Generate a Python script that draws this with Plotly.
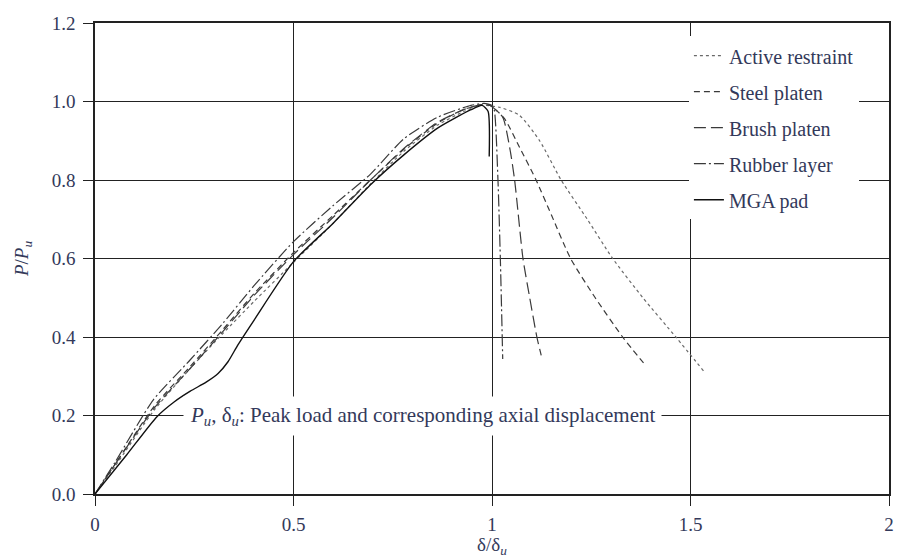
import plotly.graph_objects as go

# ---- data ----
active_x = [0, 0.05, 0.15, 0.24, 0.323, 0.4, 0.5, 0.6, 0.694, 0.78, 0.863, 0.93, 0.97, 0.985, 1.02, 1.069, 1.12, 1.174, 1.24, 1.304, 1.38, 1.463, 1.535]
active_y = [0, 0.07, 0.215, 0.32, 0.41, 0.49, 0.59, 0.69, 0.79, 0.875, 0.94, 0.975, 0.99, 0.99, 0.985, 0.965, 0.9, 0.8, 0.7, 0.6, 0.5, 0.4, 0.311]

steel_x = [0, 0.05, 0.15, 0.24, 0.323, 0.4, 0.5, 0.6, 0.694, 0.78, 0.863, 0.93, 0.975, 0.995, 1.031, 1.069, 1.111, 1.15, 1.198, 1.26, 1.329, 1.388]
steel_y = [0, 0.075, 0.225, 0.325, 0.42, 0.51, 0.615, 0.71, 0.8, 0.88, 0.945, 0.98, 0.992, 0.99, 0.957, 0.884, 0.8, 0.71, 0.6, 0.5, 0.4, 0.326]

brush_x = [0, 0.05, 0.15, 0.24, 0.323, 0.4, 0.5, 0.6, 0.694, 0.78, 0.863, 0.93, 0.975, 0.995, 1.027, 1.045, 1.057, 1.078, 1.095, 1.113, 1.124]
brush_y = [0, 0.075, 0.22, 0.32, 0.415, 0.505, 0.61, 0.705, 0.8, 0.882, 0.947, 0.98, 0.992, 0.99, 0.96, 0.88, 0.8, 0.6, 0.5, 0.4, 0.353]

rubber_x = [0, 0.05, 0.147, 0.24, 0.323, 0.4, 0.5, 0.6, 0.694, 0.778, 0.863, 0.947, 0.98, 1.0, 1.006, 1.015, 1.021, 1.027]
rubber_y = [0, 0.08, 0.24, 0.342, 0.436, 0.53, 0.643, 0.735, 0.815, 0.905, 0.96, 0.99, 0.995, 0.99, 0.977, 0.8, 0.6, 0.344]

mga_x = [0, 0.08, 0.156, 0.2, 0.24, 0.28, 0.31, 0.335, 0.36, 0.4, 0.5, 0.6, 0.694, 0.778, 0.863, 0.947, 0.975, 0.99, 0.993]
mga_y = [0, 0.1, 0.197, 0.235, 0.262, 0.285, 0.307, 0.337, 0.38, 0.442, 0.592, 0.69, 0.788, 0.864, 0.932, 0.979, 0.99, 0.975, 0.86]

series_names = ["Active restraint", "Steel platen", "Brush platen", "Rubber layer", "MGA pad"]

x_ticks = [0, 0.5, 1, 1.5, 2]
x_ticklabels = ["0", "0.5", "1", "1.5", "2"]
y_ticks = [0, 0.2, 0.4, 0.6, 0.8, 1.0, 1.2]
y_ticklabels = ["0.0", "0.2", "0.4", "0.6", "0.8", "1.0", "1.2"]

note_text = "<i>P<sub>u</sub></i>, δ<sub><i>u</i></sub>: Peak load and corresponding axial displacement"

# ---- styling ----
FONT = "Liberation Serif"
TXT = "#33395a"
series = [
    (active_x, active_y, "dot", "#6a6a6a", 1.2),
    (steel_x, steel_y, "6px,4px", "#3a3a3a", 1.2),
    (brush_x, brush_y, "12px,5px", "#3a3a3a", 1.2),
    (rubber_x, rubber_y, "12px,3px,2px,3px", "#3a3a3a", 1.2),
    (mga_x, mga_y, "solid", "#111111", 1.4),
]

fig = go.Figure()
for i, ((xs, ys, dash, col, w), name) in enumerate(zip(series, series_names)):
    fig.add_trace(go.Scatter(
        x=xs, y=ys, mode="lines", name=name, legendgroup=f"g{i}",
        line=dict(color=col, width=w, dash=dash, shape="spline", smoothing=0.6),
    ))

fig.add_annotation(
    x=0.826, y=0.2, xref="x", yref="y", text=note_text, showarrow=False,
    font=dict(family=FONT, size=21, color=TXT), bgcolor="white", borderpad=6,
)

axis_common = dict(
    showline=True, linecolor="#222", linewidth=1.5, mirror=True,
    showgrid=True, gridcolor="#222", gridwidth=1.4, zeroline=False,
    ticks="outside", ticklen=10, tickwidth=1.4, tickcolor="#222",
    tickfont=dict(family=FONT, size=19, color=TXT), automargin=False,
)

fig.update_layout(
    width=897, height=558,
    margin=dict(l=95, r=8, t=23, b=64),
    paper_bgcolor="white", plot_bgcolor="white",
    showlegend=True,
    legend=dict(
        x=0.748, y=0.972, xanchor="left", yanchor="top",
        bgcolor="white", borderwidth=0,
        font=dict(family=FONT, size=20, color=TXT),
        traceorder="grouped", tracegroupgap=7, itemwidth=30,
    ),
    xaxis=dict(axis_common, range=[0, 2], tickvals=x_ticks, ticktext=x_ticklabels,
               ticklabelstandoff=2,
               title=dict(text="δ/δ<sub><i>u</i></sub>", font=dict(family=FONT, size=19, color=TXT), standoff=3)),
    yaxis=dict(axis_common, range=[0, 1.2], tickvals=y_ticks, ticktext=y_ticklabels,
               ticklabelstandoff=4,
               title=dict(text="<i>P</i>/<i>P<sub>u</sub></i>", font=dict(family=FONT, size=19, color=TXT), standoff=18)),
)

fig.write_html("out.html")
